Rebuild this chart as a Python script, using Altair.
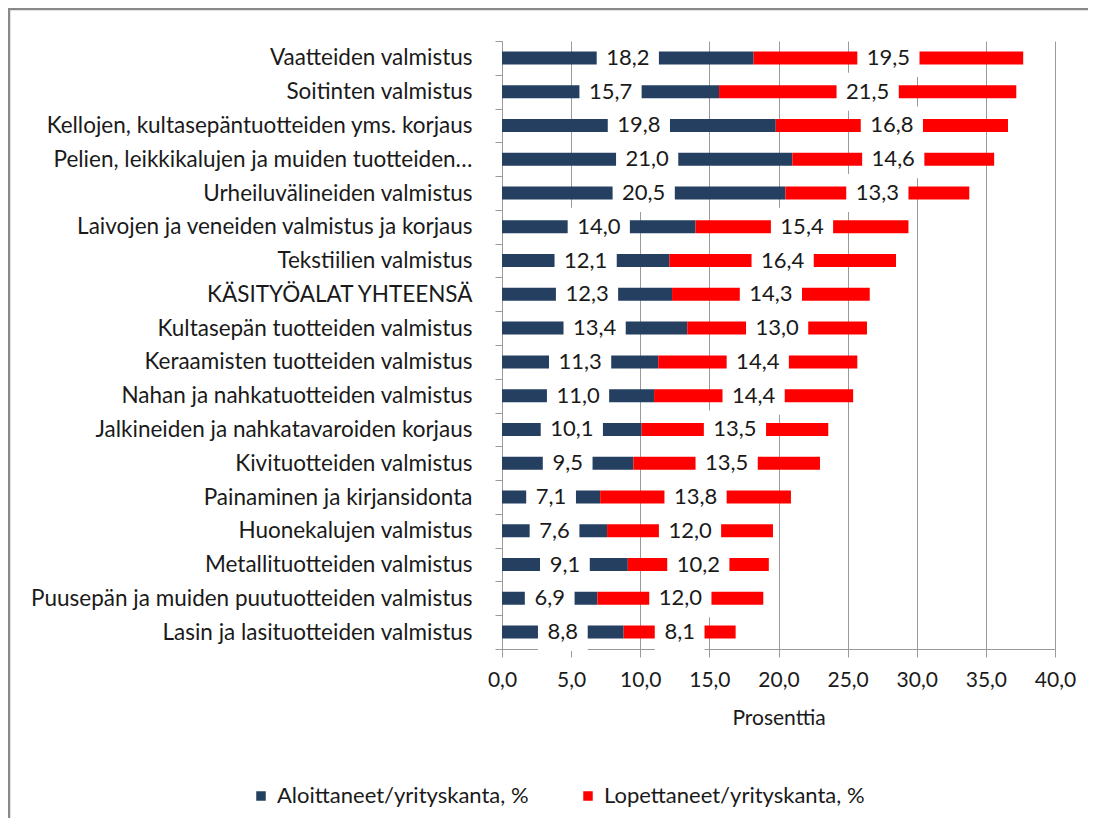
import altair as alt
import pandas as pd

categories = [
    "Vaatteiden valmistus",
    "Soitinten valmistus",
    "Kellojen, kultasepäntuotteiden yms. korjaus",
    "Pelien, leikkikalujen ja muiden tuotteiden…",
    "Urheiluvälineiden valmistus",
    "Laivojen ja veneiden valmistus ja korjaus",
    "Tekstiilien valmistus",
    "KÄSITYÖALAT YHTEENSÄ",
    "Kultasepän tuotteiden valmistus",
    "Keraamisten tuotteiden valmistus",
    "Nahan ja nahkatuotteiden valmistus",
    "Jalkineiden ja nahkatavaroiden korjaus",
    "Kivituotteiden valmistus",
    "Painaminen ja kirjansidonta",
    "Huonekalujen valmistus",
    "Metallituotteiden valmistus",
    "Puusepän ja muiden puutuotteiden valmistus",
    "Lasin ja lasituotteiden valmistus",
]
aloittaneet = [18.2, 15.7, 19.8, 21.0, 20.5, 14.0, 12.1, 12.3, 13.4, 11.3, 11.0, 10.1, 9.5, 7.1, 7.6, 9.1, 6.9, 8.8]
lopettaneet = [19.5, 21.5, 16.8, 14.6, 13.3, 15.4, 16.4, 14.3, 13.0, 14.4, 14.4, 13.5, 13.5, 13.8, 12.0, 10.2, 12.0, 8.1]
series_names = ["Aloittaneet/yrityskanta, %", "Lopettaneet/yrityskanta, %"]
series_colors = ["#253F60", "#FF0000"]
x_ticks = [0, 5, 10, 15, 20, 25, 30, 35, 40]

rows = []
for c, a, l in zip(categories, aloittaneet, lopettaneet):
    rows.append({"cat": c, "series": series_names[0], "value": a, "start": 0.0, "end": a})
    rows.append({"cat": c, "series": series_names[1], "value": l, "start": a, "end": a + l})
df = pd.DataFrame(rows)

FONT = "Lato"
GRAY = "#9A9A9A"
TXT = "#1a1a1a"


def xenc(field):
    return alt.X(
        f"{field}:Q",
        scale=alt.Scale(domain=[0, 40], nice=False),
        title="Prosenttia",
        axis=alt.Axis(
            values=x_ticks,
            labelExpr="replace(format(datum.value, '.1f'), '.', ',')",
            labelFlush=False,
            grid=True,
            gridColor=GRAY,
            domainColor=GRAY,
            tickColor=GRAY,
            tickSize=8,
            labelPadding=12,
            titlePadding=17,
            labelFontSize=21,
            titleFontSize=21,
            labelColor=TXT,
            titleColor=TXT,
            titleFontWeight="normal",
            labelFont=FONT,
            titleFont=FONT,
        ),
    )


yenc = alt.Y(
    "cat:N",
    sort=categories,
    scale=alt.Scale(paddingInner=0, paddingOuter=0),
    title=None,
    axis=alt.Axis(
        tickBand="extent",
        grid=False,
        domainColor=GRAY,
        tickColor=GRAY,
        tickSize=7,
        labelPadding=23,
        labelFontSize=22.5,
        labelColor=TXT,
        labelFont=FONT,
        labelLimit=600,
    ),
)

base = alt.Chart(df)

bars = base.mark_bar(size=13).encode(
    x=xenc("start"),
    x2="end:Q",
    y=yenc,
    color=alt.Color(
        "series:N",
        scale=alt.Scale(domain=series_names, range=series_colors),
        legend=alt.Legend(
            orient="none",
            legendX=-252,
            legendY=744,
            direction="horizontal",
            title=None,
            symbolType="square",
            symbolSize=90,
            symbolStrokeWidth=0,
            labelFontSize=22,
            labelFont=FONT,
            labelColor=TXT,
            labelLimit=500,
            columnPadding=48,
            labelOffset=5,
        ),
    ),
)

labeled = (
    base.transform_calculate(mid="(datum.start + datum.end) / 2")
    .transform_calculate(lbl="replace(format(datum.value, '.1f'), '.', ',')")
    .transform_calculate(hw="length(datum.lbl) >= 4 ? 2.25 : 1.8")
    .transform_calculate(x0="datum.mid - datum.hw", x1="datum.mid + datum.hw")
)

boxes = labeled.mark_bar(size=38, color="white").encode(
    x=xenc("x0"), x2="x1:Q", y=yenc
)

texts = labeled.mark_text(font=FONT, fontSize=22, color=TXT).encode(
    x=xenc("mid"), y=yenc, text="lbl:N"
)

frame_data = alt.Data(values=[{}])
frame_top = alt.Chart(frame_data).mark_rule(color="#8A8A8A", strokeWidth=2.5).encode(
    x=alt.value(-494), x2=alt.value(586), y=alt.value(-32)
)
frame_left = alt.Chart(frame_data).mark_rule(color="#8A8A8A", strokeWidth=2.5).encode(
    x=alt.value(-493), y=alt.value(-33), y2=alt.value(777)
)

chart = (
    alt.layer(bars, boxes, texts, frame_top, frame_left)
    .properties(
        width=553,
        height=608,
        autosize=alt.AutoSizeParams(type="none"),
        padding={"left": 494, "top": 33, "right": 33, "bottom": 169},
        background="white",
    )
    .configure_view(strokeWidth=0)
)

chart.save("out.html", embed_options={"renderer": "svg", "actions": False})
